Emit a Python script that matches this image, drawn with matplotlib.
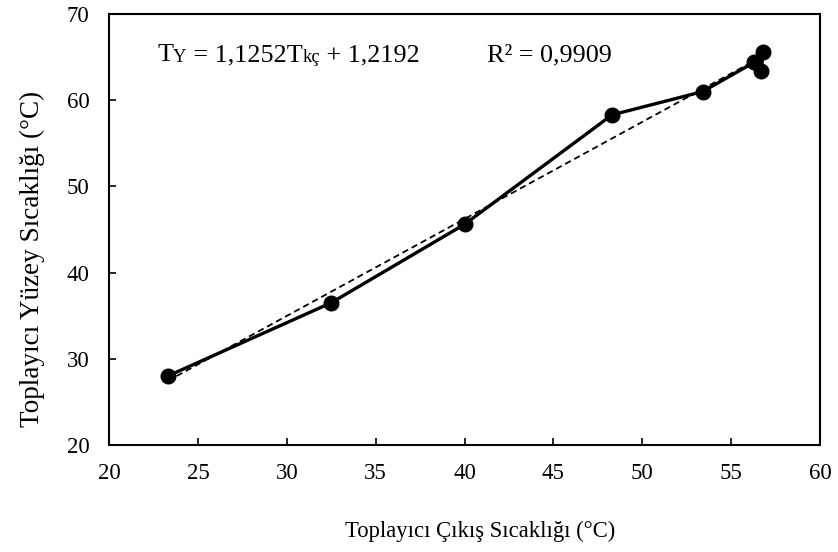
import numpy as np
import matplotlib
matplotlib.use("Agg")
import matplotlib.pyplot as plt

# Collector outlet temp vs collector surface temp
t_out = [23.3, 32.5, 40.0, 48.3, 53.4, 56.3, 56.8, 56.7]
t_surf = [28.0, 36.5, 45.6, 58.3, 61.0, 64.4, 65.6, 63.4]
slope, intercept = 1.1252, 1.2192

plt.rcParams['font.family'] = ['Liberation Serif', 'DejaVu Serif']

fig = plt.figure(figsize=(8.38, 5.52), dpi=100)
ax = fig.add_axes([0.1301, 0.1938, 0.8484, 0.7808])

ax.plot(t_out, t_surf, color='black', lw=2.4, marker='o', ms=10.5, zorder=3)

xs = np.array([min(t_out), max(t_out)])
ax.plot(xs, slope * xs + intercept, color='black', lw=1.3,
        linestyle=(0, (3.5, 2.2)), zorder=2)

ax.set_xlim(20, 60)
ax.set_ylim(20, 70)
ax.set_xticks(range(20, 61, 5))
ax.set_yticks(range(20, 71, 10))
ax.tick_params(direction='in', length=5, width=1.2, labelsize=16.5,
               top=False, right=False)
ax.tick_params(axis='x', pad=13)
ax.tick_params(axis='y', pad=14)
for s in ax.spines.values():
    s.set_linewidth(1.5)

ax.set_xlabel('Toplayıcı Çıkış Sıcaklığı (°C)', fontsize=16.3, va='baseline')
ax.xaxis.set_label_coords(0.522, -0.2135)
ax.set_ylabel('Toplayıcı Yüzey Sıcaklığı (°C)', fontsize=19.5, va='center')
ax.yaxis.set_label_coords(-0.108, 0.432)

# equation with small-size parts on the baseline
parts = [('T', 18.8), ('Y', 13.5), (' = 1,1252T', 18.8), ('kç', 13.5), (' + 1,2192', 18.8)]
prev = ax.text(0.0675, 0.891, parts[0][0], transform=ax.transAxes,
               fontsize=parts[0][1], va='baseline', ha='left')
for txt, fs in parts[1:]:
    prev = ax.annotate(txt, xy=(1, 0), xycoords=prev, fontsize=fs,
                       va='bottom', ha='left')
ax.text(0.532, 0.891, 'R² = 0,9909', transform=ax.transAxes,
        fontsize=18.8, va='baseline', ha='left')

fig.savefig('out.png', dpi=100)
